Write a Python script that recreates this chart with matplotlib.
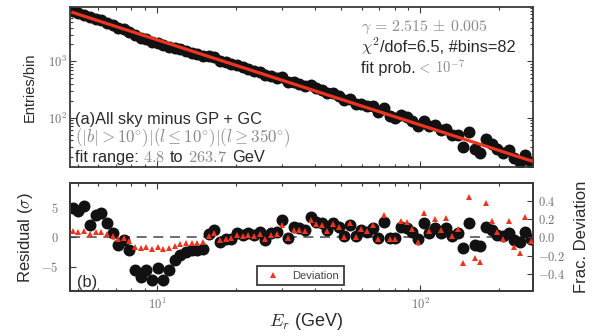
import numpy as np
import matplotlib
matplotlib.use("Agg")
import matplotlib.pyplot as plt
from matplotlib.ticker import FuncFormatter, LogLocator, FixedLocator, NullFormatter

# ---------------- data ----------------
energy = [4.80, 5.04, 5.30, 5.57, 5.85, 6.15, 6.46, 6.79, 7.13, 7.49,
          7.87, 8.27, 8.69, 9.13, 9.59, 10.08, 10.59, 11.13, 11.69, 12.29,
          12.91, 13.56, 14.25, 14.98, 15.73, 16.53, 17.37, 18.25, 19.18, 20.15,
          21.17, 22.25, 23.37, 24.56, 25.80, 27.11, 28.49, 29.93, 31.45, 33.04,
          34.72, 36.48, 38.33, 40.27, 42.32, 44.46, 46.72, 49.09, 51.58, 54.19,
          56.94, 59.83, 62.86, 66.05, 69.40, 72.92, 76.61, 80.50, 84.58, 88.87,
          93.38, 98.11, 103.1, 108.3, 113.8, 119.6, 125.6, 132.0, 138.7, 145.7,
          153.1, 160.9, 169.1, 177.6, 186.6, 196.1, 206.1, 216.5, 227.5, 239.0,
          251.1, 263.7]

counts = [7880, 7280, 6800, 6110, 5780, 5380, 4880, 4440, 3970, 3740,
          3350, 2910, 2640, 2500, 2250, 2140, 1940, 1820, 1750, 1650,
          1550, 1440, 1340, 1250, 1240, 1190, 1020, 960, 900, 860,
          790, 740, 680, 640, 565, 550, 515, 520, 425, 430,
          400, 365, 375, 335, 310, 270, 270, 240, 203, 217,
          175, 176, 160, 158, 126, 148, 108, 100, 112, 103,
          89, 72, 89, 70, 73, 61, 63, 49, 49, 30,
          56, 28, 24, 42, 34, 28, 24, 27, 19, 16.3,
          22, 16]

residual = [5.0, 4.4, 5.2, 2.0, 3.7, 4.1, 2.4, 0.7, -1.4, -0.5,
            -2.2, -5.6, -6.8, -5.6, -7.3, -5.3, -7.3, -5.6, -3.9, -3.1,
            -2.5, -2.2, -2.2, -2.0, 0.5, 1.2, -0.8, -0.4, -0.3, 0.7,
            0.3, 0.7, 0.4, 0.9, -0.5, 0.7, 0.9, 2.9, -0.2, 1.7,
            1.5, 1.2, 3.4, 2.6, 2.3, 1.2, 2.3, 1.7, 0.1, 2.1,
            0.1, 1.2, 0.9, 1.6, -0.2, 2.6, -0.2, -0.2, 1.7, 1.6,
            0.8, -0.4, 2.3, 0.6, 1.5, 0.6, 1.5, 0.1, 0.6, -1.9,
            2.4, -1.4, -1.6, 1.75, 1.2, 0.3, 0.1, 0.6, -0.5, -0.8,
            0.9, -0.4]

frac_dev = [0.065, 0.062, 0.068, 0.033, 0.056, 0.058, 0.033, 0.014, -0.022, -0.008,
            -0.04, -0.10, -0.12, -0.105, -0.13, -0.11, -0.13, -0.12, -0.09, -0.075,
            -0.062, -0.056, -0.058, -0.055, 0.014, 0.05, -0.025, -0.013, -0.01, 0.024,
            0.011, 0.026, 0.015, 0.036, -0.021, 0.03, 0.04, 0.14, -0.01, 0.085,
            0.078, 0.065, 0.19, 0.15, 0.14, 0.075, 0.15, 0.115, 0.007, 0.153,
            0.008, 0.094, 0.074, 0.136, -0.018, 0.24, -0.019, -0.02, 0.175, 0.17,
            0.09, -0.046, 0.27, 0.074, 0.20, 0.08, 0.21, 0.014, 0.09, -0.28,
            0.44, -0.23, -0.27, 0.38, 0.18, 0.06, -0.02, 0.18, -0.10, -0.17,
            0.22, -0.04]

fit_energy = [4.8, 263.7]
fit_counts = [7400, 17.1]

left_ticks = [-5, 0, 5]
right_ticks = [-0.4, -0.2, 0.0, 0.2, 0.4]

# ---------------- style ----------------
plt.rcParams["font.family"] = ["Liberation Sans", "DejaVu Sans"]
plt.rcParams["mathtext.fontset"] = "cm"

DARK = "#2a2a2a"
GRAY = "#8a8a8a"
SPINE = "#3a3a3a"
RED = "#ec3420"

fig = plt.figure(figsize=(5.92, 3.36), dpi=100)
ax_top = fig.add_axes([0.1174, 0.5015, 0.7821, 0.4762])
ax_bot = fig.add_axes([0.1174, 0.1339, 0.7821, 0.3200])
ax_frac = ax_bot.twinx()

pow_fmt = FuncFormatter(lambda v, p: r"$10^{%d}$" % int(round(np.log10(v))) if v > 0 else "")


def style_axes(ax):
    for s in ax.spines.values():
        s.set_color(SPINE)
        s.set_linewidth(1.3)
    ax.tick_params(which="both", direction="in", color=SPINE, width=0.8,
                   labelcolor="#707070", labelsize=9)
    ax.tick_params(which="major", length=4)
    ax.tick_params(which="minor", length=2.2)


# ---------------- top panel ----------------
ax_top.plot(energy, counts, "o", color="#111111", ms=7.6, mec="#111111", zorder=2)
ax_top.plot(fit_energy, fit_counts, "-", color=RED, lw=2.3, zorder=3)
ax_top.set_xscale("log")
ax_top.set_yscale("log")
ax_top.set_xlim(4.66, 267)
ax_top.set_ylim(13, 9100)
ax_top.yaxis.set_major_locator(LogLocator(base=10))
ax_top.yaxis.set_minor_locator(LogLocator(base=10, subs=np.arange(2, 10)))
ax_top.yaxis.set_major_formatter(pow_fmt)
ax_top.yaxis.set_minor_formatter(NullFormatter())
ax_top.xaxis.set_minor_locator(LogLocator(base=10, subs=np.arange(2, 10)))
ax_top.xaxis.set_major_formatter(NullFormatter())
ax_top.xaxis.set_minor_formatter(NullFormatter())
style_axes(ax_top)
ax_top.tick_params(which="both", top=True, right=True)
ax_top.tick_params(axis="y", pad=2)
ax_top.set_ylabel("Entries/bin", fontsize=10.5, color=DARK)
ax_top.yaxis.set_label_coords(-0.07, 0.5)

# ---------------- bottom panel ----------------
ax_bot.axhline(0, color="#555555", ls=(0, (6, 4)), lw=1.2, zorder=1)
ax_bot.plot(energy, residual, "o", color="#111111", ms=7.6, mec="#111111", zorder=2)
ax_bot.set_xscale("log")
ax_bot.set_xlim(4.66, 267)
ax_bot.set_ylim(-9.15, 9.07)
ax_bot.xaxis.set_major_locator(LogLocator(base=10))
ax_bot.xaxis.set_minor_locator(LogLocator(base=10, subs=np.arange(2, 10)))
ax_bot.xaxis.set_major_formatter(pow_fmt)
ax_bot.xaxis.set_minor_formatter(NullFormatter())
ax_bot.yaxis.set_major_locator(FixedLocator(left_ticks))
ax_bot.yaxis.set_major_formatter(FuncFormatter(lambda v, p: r"$%d$" % int(round(v))))
style_axes(ax_bot)
ax_bot.tick_params(which="both", top=True, right=False)
ax_bot.tick_params(axis="y", pad=8)
ax_bot.tick_params(axis="x", pad=4)
ax_bot.set_ylabel(r"Residual ($\sigma$)", fontsize=12, color=DARK)
ax_bot.yaxis.set_label_coords(-0.075, 0.5)
ax_bot.set_xlabel(r"$E_r$ (GeV)", fontsize=13, color=DARK)
ax_bot.xaxis.set_label_coords(0.511, -0.19)

ax_frac.plot(energy, frac_dev, "^", color=RED, ms=4.2, mew=0, zorder=3, label="Deviation")
ax_frac.set_ylim(-0.586, 0.59)
ax_frac.yaxis.set_major_locator(FixedLocator(right_ticks))
ax_frac.yaxis.set_major_formatter(
    FuncFormatter(lambda v, p: r"$%.1f$" % (0.0 if abs(v) < 1e-9 else v)))
style_axes(ax_frac)
ax_frac.tick_params(axis="y", pad=4)
ax_frac.set_ylabel("Frac. Deviation", fontsize=12, color=DARK)
ax_frac.yaxis.set_label_coords(1.09, 0.5)

leg = ax_frac.legend(loc="lower left", bbox_to_anchor=(0.405, 0.056), fontsize=8,
                     frameon=True, fancybox=False, edgecolor=SPINE, framealpha=1,
                     borderaxespad=0, numpoints=1, handlelength=2, borderpad=0.4)
leg.get_frame().set_linewidth(1.3)
for t in leg.get_texts():
    t.set_color("#444444")

# ---------------- annotations ----------------
renderer = fig.canvas.get_renderer()


def chain_text(ax, x, y, pieces):
    """pieces: (text, colour, size, gap_before_in_px)"""
    inv = ax.transAxes.inverted()
    for s, c, size, gap in pieces:
        xd = ax.transAxes.transform((x, y))[0] + gap
        x = inv.transform((xd, 0))[0]
        t = ax.text(x, y, s, transform=ax.transAxes, color=c, fontsize=size,
                    ha="left", va="baseline")
        bb = t.get_window_extent(renderer=renderer)
        x = inv.transform((bb.x1, bb.y0))[0]


FS = 11.8
MS = 11.4
chain_text(ax_top, 0.012, 0.272, [("(a)All sky minus GP + GC", DARK, FS, 0)])
chain_text(ax_top, 0.012, 0.158,
           [(r"$(|b|>10^{\circ})|(l\leq10^{\circ})|(l\geq350^{\circ})$", GRAY, 12.2, 0)])
chain_text(ax_top, 0.012, 0.036,
           [("fit range:", DARK, FS, 0), (r"$4.8$", GRAY, FS, 4.5), ("to", DARK, FS, 4.5),
            (r"$263.7$", GRAY, FS, 4.5), ("GeV", DARK, FS, 4.5)])
chain_text(ax_top, 0.629, 0.855, [(r"$\gamma\,=\,2.515\,\pm\,0.005$", GRAY, MS, 0)])
chain_text(ax_top, 0.629, 0.724,
           [(r"$\chi^2$", DARK, FS, 0), ("/dof=6.5, #bins=82", DARK, FS, 0.5)])
chain_text(ax_top, 0.629, 0.5925,
           [("fit prob.", DARK, FS, 0), (r"$<$", GRAY, 10.5, 1), (r"$10^{-7}$", GRAY, 10.5, 4)])
chain_text(ax_bot, 0.016, 0.04, [("(b)", DARK, FS, 0)])

fig.savefig("out.png", dpi=100)
